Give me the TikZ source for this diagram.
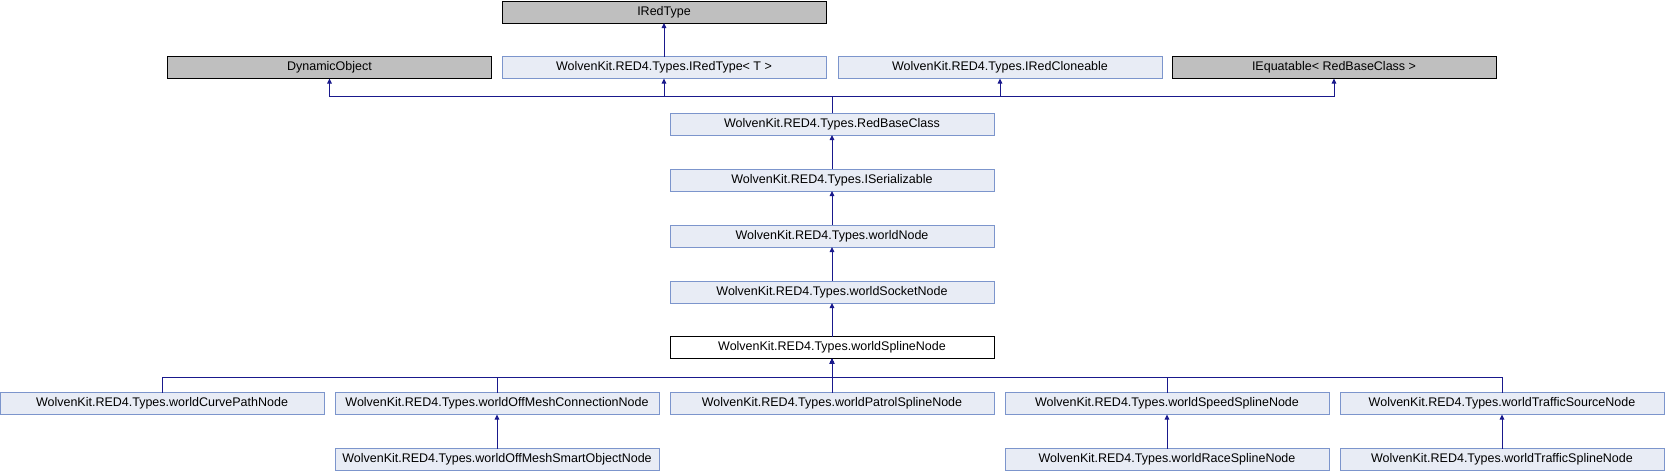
\documentclass[tikz,border=0pt]{standalone}
\usepackage{fontspec}
\setmainfont{Liberation Sans}
\usepackage{xcolor}
\usetikzlibrary{arrows.meta}
\definecolor{boxfill}{RGB}{232,236,245}
\definecolor{boxline}{RGB}{124,149,204}
\definecolor{extfill}{RGB}{191,191,191}
\definecolor{edgecol}{RGB}{25,25,140}

\begin{document}
\begin{tikzpicture}[x=1pt,y=-1pt,
		box/.style={draw=boxline,fill=boxfill,line width=1pt,minimum width=324pt,minimum height=22pt,inner sep=0pt,outer sep=0pt,font=\fontsize{12.5}{14}\selectfont},
		ext/.style={box,draw=black,fill=extfill},
		cur/.style={box,draw=black,fill=white},
		edge/.style={draw=edgecol,line width=1pt,-{Triangle[length=5pt,width=4.5pt]}}]
		\useasboundingbox (0,0) rectangle (1665,472);
		
		\node[ext] (irt) at (664,12) {IRedType};
		
		\node[ext] (dyn) at (329.5,67.5) {DynamicObject};
		\node[box] (irtT) at (664,67.5) {WolvenKit.RED4.Types.IRedType< T >};
		\node[box] (clone) at (1000,67.5) {WolvenKit.RED4.Types.IRedCloneable};
		\node[ext] (iequ) at (1334,67.5) {IEquatable< RedBaseClass >};
		
		\node[box] (rbc) at (832,124) {WolvenKit.RED4.Types.RedBaseClass};
		\node[box] (iser) at (832,180) {WolvenKit.RED4.Types.ISerializable};
		\node[box] (wn) at (832,236) {WolvenKit.RED4.Types.worldNode};
		\node[box] (wsock) at (832,292) {WolvenKit.RED4.Types.worldSocketNode};
		\node[cur] (wspl) at (832,347.5) {WolvenKit.RED4.Types.worldSplineNode};
		
		\node[box] (curve) at (162,403.5) {WolvenKit.RED4.Types.worldCurvePathNode};
		\node[box] (offconn) at (497,403.5) {WolvenKit.RED4.Types.worldOffMeshConnectionNode};
		\node[box] (patrol) at (832,403.5) {WolvenKit.RED4.Types.worldPatrolSplineNode};
		\node[box] (speed) at (1167,403.5) {WolvenKit.RED4.Types.worldSpeedSplineNode};
		\node[box] (trsrc) at (1502,403.5) {WolvenKit.RED4.Types.worldTrafficSourceNode};
		
		\node[box] (offsmart) at (497,459.5) {WolvenKit.RED4.Types.worldOffMeshSmartObjectNode};
		\node[box] (race) at (1167,459.5) {WolvenKit.RED4.Types.worldRaceSplineNode};
		\node[box] (trspl) at (1502,459.5) {WolvenKit.RED4.Types.worldTrafficSplineNode};
		
		\draw[edge] (irtT.north) -- (irt.south);
		
		\draw[edge] (rbc.north) -- ++(0,-16.5) -| (dyn.south);
		\draw[edge] (rbc.north) -- ++(0,-16.5) -| (irtT.south);
		\draw[edge] (rbc.north) -- ++(0,-16.5) -| (clone.south);
		\draw[edge] (rbc.north) -- ++(0,-16.5) -| (iequ.south);
		
		\draw[edge] (iser.north) -- (rbc.south);
		\draw[edge] (wn.north) -- (iser.south);
		\draw[edge] (wsock.north) -- (wn.south);
		\draw[edge] (wspl.north) -- (wsock.south);
		
		\draw[edge] (curve.north) -- ++(0,-15.5) -| (wspl.south);
		\draw[edge] (offconn.north) -- ++(0,-15.5) -| (wspl.south);
		\draw[edge] (patrol.north) -- (wspl.south);
		\draw[edge] (speed.north) -- ++(0,-15.5) -| (wspl.south);
		\draw[edge] (trsrc.north) -- ++(0,-15.5) -| (wspl.south);
		
		\draw[edge] (offsmart.north) -- (offconn.south);
		\draw[edge] (race.north) -- (speed.south);
		\draw[edge] (trspl.north) -- (trsrc.south);
	\end{tikzpicture}
\end{document}
